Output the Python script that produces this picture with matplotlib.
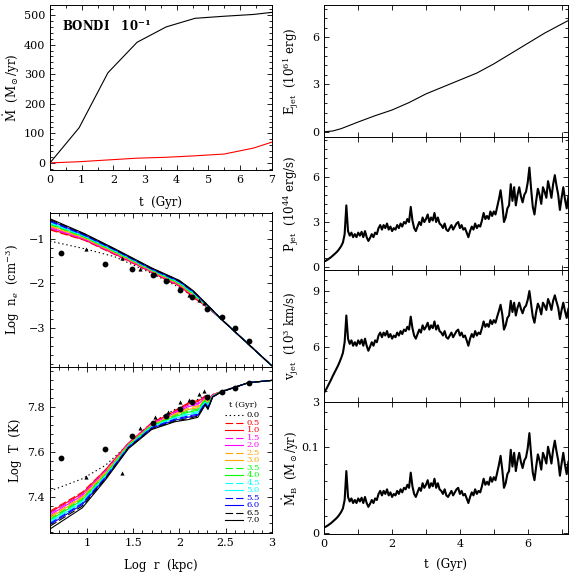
import numpy as np
import matplotlib
matplotlib.use('Agg')
import matplotlib.pyplot as plt
from matplotlib.ticker import MultipleLocator, FuncFormatter

plt.rcParams['font.family'] = ['DejaVu Serif']
plt.rcParams['mathtext.fontset'] = 'dejavuserif'
plt.rcParams['lines.scale_dashes'] = False

# ---------------- data ----------------
# top-left: accretion rates vs time
acc_t = [0.0, 0.92, 1.83, 2.75, 3.67, 4.58, 5.5, 6.42, 7.0]
acc_black = [0, 119, 305, 408, 460, 489, 496, 502, 509]
acc_red = [0, 4, 10, 16, 19, 24, 30, 50, 70]

# observations
obs_r_circ = [0.715, 1.19, 1.49, 1.716, 1.86, 2.005, 2.14, 2.30, 2.46, 2.605, 2.754]
obs_ne_circ = [-1.32, -1.56, -1.68, -1.82, -1.95, -2.14, -2.31, -2.56, -2.76, -3.00, -3.28]
obs_T_circ = [7.575, 7.612, 7.672, 7.728, 7.761, 7.794, 7.825, 7.847, 7.867, 7.885, 7.91]
obs_r_tri = [0.99, 1.384, 1.57, 1.74, 1.88, 2.01, 2.11, 2.21, 2.27]
obs_ne_tri = [-1.23, -1.43, -1.68, -1.79, -1.93, -2.12, -2.25, -2.36, -2.44]
obs_T_tri = [7.487, 7.505, 7.709, 7.755, 7.778, 7.825, 7.833, 7.858, 7.874]

# model profiles
times = ['0.0', '0.5', '1.0', '1.5', '2.0', '2.5', '3.0', '3.5',
         '4.0', '4.5', '5.0', '5.5', '6.0', '6.5', '7.0']
ne_r = [0.6, 0.97, 1.3, 1.7, 2.0, 2.15, 2.3, 2.45, 3.0]
ne_prof = [
    [-1.05, -1.22, -1.40, -1.77, -2.09, -2.28, -2.50, -2.79, -3.84],
    [-0.80, -1.03, -1.35, -1.75, -2.06, -2.31, -2.53, -2.79, -3.84],
    [-0.78, -1.02, -1.34, -1.74, -2.05, -2.30, -2.53, -2.79, -3.84],
    [-0.76, -1.01, -1.33, -1.73, -2.04, -2.28, -2.52, -2.79, -3.84],
    [-0.74, -1.00, -1.32, -1.73, -2.03, -2.27, -2.52, -2.79, -3.84],
    [-0.72, -0.99, -1.31, -1.72, -2.02, -2.26, -2.51, -2.79, -3.84],
    [-0.70, -0.97, -1.30, -1.71, -2.01, -2.25, -2.51, -2.79, -3.84],
    [-0.68, -0.96, -1.29, -1.70, -2.00, -2.24, -2.50, -2.79, -3.84],
    [-0.66, -0.95, -1.28, -1.70, -1.99, -2.22, -2.50, -2.79, -3.84],
    [-0.65, -0.94, -1.27, -1.69, -1.98, -2.21, -2.49, -2.79, -3.84],
    [-0.63, -0.93, -1.26, -1.68, -1.97, -2.20, -2.49, -2.79, -3.84],
    [-0.61, -0.92, -1.25, -1.68, -1.96, -2.19, -2.48, -2.79, -3.84],
    [-0.59, -0.91, -1.24, -1.67, -1.95, -2.18, -2.48, -2.79, -3.84],
    [-0.57, -0.89, -1.23, -1.66, -1.94, -2.17, -2.47, -2.79, -3.84],
    [-0.55, -0.88, -1.22, -1.65, -1.93, -2.16, -2.47, -2.79, -3.84],
]
T_r = [0.6, 0.95, 1.2, 1.45, 1.7, 1.95, 2.1, 2.2, 2.28, 2.31, 2.36, 2.45, 2.75, 3.0]
T_prof = [
    [7.425, 7.48, 7.54, 7.635, 7.73, 7.79, 7.815, 7.835, 7.85, 7.852, 7.857, 7.87, 7.91, 7.92],
    [7.335, 7.42, 7.52, 7.64, 7.73, 7.785, 7.82, 7.83, 7.85, 7.84, 7.855, 7.87, 7.91, 7.92],
    [7.33, 7.415, 7.52, 7.64, 7.728, 7.782, 7.815, 7.825, 7.848, 7.836, 7.854, 7.87, 7.91, 7.92],
    [7.325, 7.41, 7.515, 7.638, 7.726, 7.778, 7.81, 7.818, 7.845, 7.832, 7.853, 7.87, 7.91, 7.92],
    [7.318, 7.405, 7.512, 7.636, 7.724, 7.774, 7.803, 7.812, 7.842, 7.828, 7.852, 7.87, 7.91, 7.92],
    [7.312, 7.40, 7.51, 7.634, 7.722, 7.77, 7.797, 7.805, 7.838, 7.824, 7.851, 7.869, 7.91, 7.92],
    [7.306, 7.395, 7.505, 7.632, 7.72, 7.766, 7.79, 7.798, 7.835, 7.82, 7.85, 7.869, 7.91, 7.92],
    [7.30, 7.39, 7.50, 7.63, 7.718, 7.762, 7.784, 7.792, 7.832, 7.816, 7.85, 7.869, 7.91, 7.92],
    [7.295, 7.385, 7.498, 7.628, 7.716, 7.758, 7.778, 7.786, 7.829, 7.812, 7.849, 7.869, 7.91, 7.92],
    [7.29, 7.38, 7.494, 7.626, 7.714, 7.754, 7.772, 7.78, 7.826, 7.808, 7.848, 7.869, 7.91, 7.92],
    [7.285, 7.375, 7.49, 7.624, 7.712, 7.75, 7.767, 7.775, 7.822, 7.804, 7.847, 7.868, 7.91, 7.92],
    [7.28, 7.37, 7.487, 7.622, 7.709, 7.746, 7.761, 7.769, 7.819, 7.80, 7.847, 7.868, 7.91, 7.92],
    [7.275, 7.365, 7.483, 7.62, 7.706, 7.742, 7.756, 7.764, 7.816, 7.796, 7.846, 7.868, 7.91, 7.92],
    [7.268, 7.358, 7.479, 7.618, 7.703, 7.738, 7.75, 7.76, 7.813, 7.793, 7.845, 7.868, 7.91, 7.92],
    [7.255, 7.35, 7.475, 7.615, 7.70, 7.735, 7.745, 7.755, 7.81, 7.79, 7.845, 7.868, 7.91, 7.92],
]
prof_colors = ['black', 'red', 'red', 'magenta', 'magenta', '#ffa500', '#ffa500',
               '#00ff00', '#00ff00', 'cyan', 'cyan', 'blue', 'blue', 'black', 'black']
prof_styles = [(0, (1, 2)), (0, (5.5, 2.2)), '-', (0, (5.5, 2.2)), '-', (0, (5.5, 2.2)), '-',
               (0, (5.5, 2.2)), '-', (0, (5.5, 2.2)), '-', (0, (5.5, 2.2)), '-', (0, (5.5, 2.2)), '-']

# jet energy
E_t = [0, 0.25, 0.5, 1.0, 1.5, 2.0, 2.5, 3.0, 3.5, 4.0, 4.5, 5.0, 5.5, 6.0, 6.5, 7.2]
E_val = [0, 0.05, 0.2, 0.62, 1.02, 1.38, 1.85, 2.4, 2.84, 3.28, 3.72, 4.3, 4.95, 5.6, 6.25, 7.05]

# time series sampled every 0.05 Gyr from 0 to 7.2
P_jet = [
    0.40, 0.45, 0.52, 0.60, 0.68, 0.78, 0.88, 0.98, 1.10, 1.25, 1.42, 1.65, 2.20, 4.10, 2.40, 2.10, 2.30, 2.00, 2.20, 2.00,
    2.30, 2.10, 2.35, 2.00, 2.40, 2.00, 1.75, 1.95, 2.20, 2.00, 2.30, 2.20, 2.60, 2.80, 2.50, 2.80, 2.60, 2.90, 2.50, 2.70,
    2.40, 2.60, 2.50, 2.80, 2.60, 2.90, 2.70, 3.00, 2.90, 3.20, 3.00, 4.00, 3.10, 2.60, 2.40, 2.70, 3.00, 2.80, 3.30, 3.00,
    3.20, 3.50, 3.00, 3.30, 3.10, 3.60, 3.00, 3.30, 2.90, 2.80, 2.60, 2.90, 2.50, 2.40, 2.60, 2.80, 2.50, 2.70, 2.90, 3.00,
    2.60, 2.80, 2.50, 2.60, 2.30, 2.00, 2.40, 2.70, 2.50, 2.90, 2.60, 2.80, 2.70, 3.10, 3.60, 3.20, 3.40, 3.20, 3.70, 3.40,
    3.70, 3.50, 4.00, 4.50, 5.10, 4.20, 3.00, 3.30, 3.90, 4.10, 5.50, 4.40, 5.30, 4.10, 4.80, 5.30, 4.70, 4.30, 4.80, 5.00,
    5.60, 6.60, 5.20, 4.00, 3.50, 4.40, 5.20, 4.80, 4.20, 5.30, 5.00, 4.60, 5.70, 5.20, 4.60, 5.50, 6.10, 5.40, 4.80, 3.80,
    4.60, 5.30, 4.50, 3.90, 4.70,
]
v_jet = [
    3.54, 3.68, 3.86, 4.05, 4.22, 4.42, 4.60, 4.77, 4.96, 5.17, 5.40, 5.67, 6.24, 7.68, 6.43, 6.15, 6.34, 6.05, 6.24, 6.05,
    6.34, 6.15, 6.38, 6.05, 6.43, 6.05, 5.78, 6.00, 6.24, 6.05, 6.34, 6.24, 6.60, 6.76, 6.51, 6.76, 6.60, 6.84, 6.51, 6.68,
    6.43, 6.60, 6.51, 6.76, 6.60, 6.84, 6.68, 6.92, 6.84, 7.07, 6.92, 7.62, 7.00, 6.60, 6.43, 6.68, 6.92, 6.76, 7.15, 6.92,
    7.07, 7.29, 6.92, 7.15, 7.00, 7.36, 6.92, 7.15, 6.84, 6.76, 6.60, 6.84, 6.51, 6.43, 6.60, 6.76, 6.51, 6.68, 6.84, 6.92,
    6.60, 6.76, 6.51, 6.60, 6.34, 6.05, 6.43, 6.68, 6.51, 6.84, 6.60, 6.76, 6.68, 7.00, 7.36, 7.07, 7.22, 7.07, 7.43, 7.22,
    7.43, 7.29, 7.62, 7.92, 8.26, 7.74, 6.92, 7.15, 7.55, 7.68, 8.47, 7.87, 8.37, 7.68, 8.10, 8.37, 8.04, 7.80, 8.10, 8.21,
    8.52, 9.00, 8.32, 7.62, 7.29, 7.87, 8.32, 8.10, 7.74, 8.37, 8.21, 7.98, 8.57, 8.32, 7.98, 8.47, 8.77, 8.42, 8.10, 7.49,
    7.98, 8.37, 7.92, 7.55, 8.04,
]
mdot_B = [
    0.0070, 0.0079, 0.0091, 0.0105, 0.0119, 0.0137, 0.0154, 0.0172, 0.0193, 0.0219, 0.0249, 0.0289, 0.0385, 0.0718, 0.0420, 0.0368, 0.0403, 0.0350, 0.0385, 0.0350,
    0.0403, 0.0368, 0.0411, 0.0350, 0.0420, 0.0350, 0.0306, 0.0341, 0.0385, 0.0350, 0.0403, 0.0385, 0.0455, 0.0490, 0.0438, 0.0490, 0.0455, 0.0508, 0.0438, 0.0473,
    0.0420, 0.0455, 0.0438, 0.0490, 0.0455, 0.0508, 0.0473, 0.0525, 0.0508, 0.0560, 0.0525, 0.0700, 0.0543, 0.0455, 0.0420, 0.0473, 0.0525, 0.0490, 0.0578, 0.0525,
    0.0560, 0.0613, 0.0525, 0.0578, 0.0543, 0.0630, 0.0525, 0.0578, 0.0508, 0.0490, 0.0455, 0.0508, 0.0438, 0.0420, 0.0455, 0.0490, 0.0438, 0.0473, 0.0508, 0.0525,
    0.0455, 0.0490, 0.0438, 0.0455, 0.0403, 0.0350, 0.0420, 0.0473, 0.0438, 0.0508, 0.0455, 0.0490, 0.0473, 0.0543, 0.0630, 0.0560, 0.0595, 0.0560, 0.0648, 0.0595,
    0.0648, 0.0613, 0.0700, 0.0788, 0.0893, 0.0735, 0.0525, 0.0578, 0.0683, 0.0718, 0.0963, 0.0770, 0.0928, 0.0718, 0.0840, 0.0928, 0.0823, 0.0753, 0.0840, 0.0875,
    0.0980, 0.1155, 0.0910, 0.0700, 0.0613, 0.0770, 0.0910, 0.0840, 0.0735, 0.0928, 0.0875, 0.0805, 0.0998, 0.0910, 0.0805, 0.0963, 0.1068, 0.0945, 0.0840, 0.0665,
    0.0805, 0.0928, 0.0788, 0.0683, 0.0823,
]
ts_t = np.linspace(0.0, 7.2, len(P_jet))

# ---------------- figure ----------------
fig = plt.figure(figsize=(5.72, 5.72), dpi=100)
W = H = 572.0


def add_ax(x0, y0, x1, y1):
    return fig.add_axes([x0 / W, 1 - y1 / H, (x1 - x0) / W, (y1 - y0) / H])


fmt = FuncFormatter(lambda v, p: ('%g' % v).replace('-', '\u2212'))


def style(ax, xmaj, xmin, ymaj, ymin, xminlen=1.9):
    ax.xaxis.set_major_locator(MultipleLocator(xmaj))
    ax.xaxis.set_minor_locator(MultipleLocator(xmin))
    ax.yaxis.set_major_locator(MultipleLocator(ymaj))
    ax.yaxis.set_minor_locator(MultipleLocator(ymin))
    ax.xaxis.set_major_formatter(fmt)
    ax.yaxis.set_major_formatter(fmt)
    ax.tick_params(which='both', direction='in', top=True, right=True,
                   labelsize=8, width=0.6, pad=3.5)
    ax.tick_params(which='major', length=3.8)
    ax.tick_params(which='minor', length=1.9)
    ax.tick_params(axis='x', which='minor', length=xminlen)
    for s in ax.spines.values():
        s.set_linewidth(0.7)


# top-left
ax0 = add_ax(50, 5, 271.7, 170)
ax0.plot(acc_t, acc_black, color='black', lw=0.8)
ax0.plot(acc_t, acc_red, color='red', lw=0.8)
ax0.set_xlim(0, 7)
ax0.set_ylim(-24, 534)
style(ax0, 1, 0.5, 100, 20)
ax0.set_xlabel('t  (Gyr)', fontsize=8.5)
ax0.xaxis.set_label_coords(0.5, -0.155)
ax0.set_ylabel(r'$\dot{\rm M}$  (M$_\odot$/yr)', fontsize=8.5)
ax0.yaxis.set_label_coords(-0.125, 0.5)
ax0.text(0.053, 0.87, r'BONDI   10$^{\mathbf{-1}}$', transform=ax0.transAxes,
         fontsize=8.5, fontweight='bold', ha='left', va='center')

# n_e panel
ax1 = add_ax(50, 212.5, 271.7, 367)
for prof, col, ls in zip(ne_prof, prof_colors, prof_styles):
    ax1.plot(ne_r, prof, color=col, ls=ls, lw=0.8)
ax1.plot(obs_r_circ, obs_ne_circ, 'o', color='black', ms=4.2, mew=0)
ax1.plot(obs_r_tri, obs_ne_tri, '^', color='black', ms=3.0, mew=0)
ax1.set_xlim(0.6, 3.0)
ax1.set_ylim(-3.87, -0.41)
style(ax1, 0.5, 0.1, 1, 0.2)
ax1.tick_params(axis='x', labelbottom=False)
ax1.set_ylabel(r'Log  n$_e$  (cm$^{-3}$)', fontsize=8.5)
ax1.yaxis.set_label_coords(-0.125, 0.5)

# T panel
ax2 = add_ax(50, 367, 271.7, 533.3)
for prof, col, ls in zip(T_prof, prof_colors, prof_styles):
    ax2.plot(T_r, prof, color=col, ls=ls, lw=0.8)
ax2.plot(obs_r_circ, obs_T_circ, 'o', color='black', ms=4.2, mew=0)
ax2.plot(obs_r_tri, obs_T_tri, '^', color='black', ms=3.0, mew=0)
ax2.set_xlim(0.6, 3.0)
ax2.set_ylim(7.236, 7.98)
style(ax2, 0.5, 0.1, 0.2, 0.04)
ax2.set_xlabel('Log  r  (kpc)', fontsize=8.5)
ax2.xaxis.set_label_coords(0.5, -0.155)
ax2.set_ylabel('Log  T  (K)', fontsize=8.5)
ax2.yaxis.set_label_coords(-0.125, 0.5)
# legend (manual, compact)
ax2.text(0.87, 0.771, 't (Gyr)', transform=ax2.transAxes, fontsize=6,
         ha='center', va='center')
for i, (lab, col, ls) in enumerate(zip(times, prof_colors, prof_styles)):
    yy = 0.711 - i * 0.0451
    ax2.plot([0.789, 0.872], [yy, yy], transform=ax2.transAxes, color=col, ls=ls, lw=0.8)
    ax2.text(0.887, yy, lab, transform=ax2.transAxes, color=col, fontsize=6,
             ha='left', va='center')

# right column
rx0, rx1 = 324.3, 567.7
edges = [5, 137.3, 269.7, 402.3, 534.3]
axE = add_ax(rx0, edges[0], rx1, edges[1])
axP = add_ax(rx0, edges[1], rx1, edges[2])
axV = add_ax(rx0, edges[2], rx1, edges[3])
axM = add_ax(rx0, edges[3], rx1, edges[4])

axE.plot(E_t, E_val, color='black', lw=0.8)
axP.plot(ts_t, P_jet, color='black', lw=1.5)
axV.plot(ts_t, v_jet, color='black', lw=1.5)
axM.plot(ts_t, mdot_B, color='black', lw=1.5)

axE.set_ylim(-0.35, 8.03)
axP.set_ylim(-0.15, 8.6)
axV.set_ylim(3.0, 10.15)
axM.set_ylim(-0.001, 0.151)
for a in (axE, axP, axV):
    style(a, 2, 1, 3, 0.6, xminlen=3.8)
style(axM, 2, 1, 0.1, 0.02, xminlen=3.8)
for a in (axE, axP, axV, axM):
    a.set_xlim(0, 7.18)
for a in (axE, axP, axV):
    a.tick_params(axis='x', labelbottom=False)

axE.set_ylabel(r'E$_{\rm jet}$  (10$^{61}$ erg)', fontsize=8.5)
axP.set_ylabel(r'P$_{\rm jet}$  (10$^{44}$ erg/s)', fontsize=8.5)
axV.set_ylabel(r'v$_{\rm jet}$  (10$^{3}$ km/s)', fontsize=8.5)
axM.set_ylabel(r'$\dot{\rm M}_{\rm B}$  (M$_\odot$/yr)', fontsize=8.5)
for a in (axE, axP, axV, axM):
    a.yaxis.set_label_coords(-0.095, 0.5)
axM.set_xlabel('t  (Gyr)', fontsize=8.5)
axM.xaxis.set_label_coords(0.5, -0.18)

fig.savefig('out.png', dpi=100)
